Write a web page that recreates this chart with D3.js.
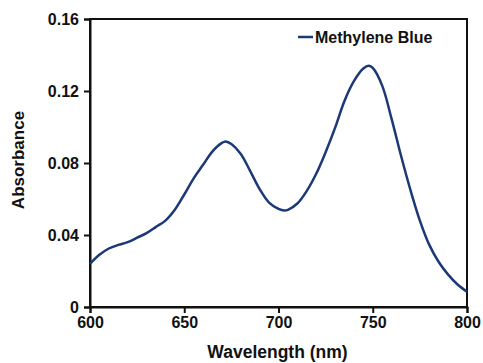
<!DOCTYPE html>
<html>
<head>
<meta charset="utf-8">
<script src="https://cdn.jsdelivr.net/npm/d3@7"></script>
<style>
	body { margin: 0; background: #fff; }
	text { font-family: "Liberation Sans", Arial, sans-serif; font-weight: bold; fill: #111; }
</style>
</head>
<body>
<svg id="chart" width="483" height="363"></svg>
<script>
// spectrum
const wavelengths = [600, 605, 610, 615, 620, 625, 630, 635, 640, 645, 650, 655, 660, 665, 670, 672, 675, 680, 685, 690, 695, 700, 703, 705, 710, 715, 720, 725, 730, 735, 740, 745, 748, 750, 755, 760, 765, 770, 775, 780, 785, 790, 795, 800]
const absorbance = [0.024, 0.029, 0.0325, 0.0345, 0.036, 0.0385, 0.041, 0.0445, 0.048, 0.054, 0.0625, 0.0715, 0.079, 0.0865, 0.0912, 0.092, 0.0905, 0.085, 0.0755, 0.0655, 0.058, 0.0545, 0.0536, 0.054, 0.0575, 0.0645, 0.074, 0.086, 0.0995, 0.1145, 0.1255, 0.1325, 0.134, 0.1328, 0.123, 0.1045, 0.084, 0.065, 0.048, 0.0345, 0.025, 0.018, 0.0125, 0.0085]
const xTicks = [600, 650, 700, 750, 800]
const yTicks = [0, 0.04, 0.08, 0.12, 0.16]
const seriesName = "Methylene Blue"

const colours = { line: "#1c3877", axis: "#111" }

const margin = { top: 19, right: 16, bottom: 56, left: 90 }
const width = 483 - margin.left - margin.right
const height = 363 - margin.top - margin.bottom

const svg = d3.select("#chart")
const g = svg.append("g").attr("transform", `translate(${margin.left},${margin.top})`)

const x = d3.scaleLinear().domain([600, 800]).range([0, width])
const y = d3.scaleLinear().domain([0, 0.16]).range([height, 0])

const points = wavelengths.map((w, i) => ({ w, a: absorbance[i] }))

// frame
g.append("rect")
	.attr("width", width)
	.attr("height", height)
	.attr("fill", "none")
	.attr("stroke", colours.axis)
	.attr("stroke-width", 2)

const xAxis = g.append("g")
	.attr("transform", `translate(0,${height})`)
	.call(d3.axisBottom(x).tickValues(xTicks).tickFormat(d3.format("d")).tickSize(6).tickPadding(4))
const yAxis = g.append("g")
	.call(d3.axisLeft(y).tickValues(yTicks).tickFormat(d => d === 0 ? "0" : d3.format(".2f")(d)).tickSize(6).tickPadding(5))

for (const ax of [xAxis, yAxis]) {
	ax.select(".domain").attr("stroke", colours.axis).attr("stroke-width", 2)
	ax.selectAll(".tick line").attr("stroke", colours.axis).attr("stroke-width", 2)
	ax.selectAll(".tick text").style("font-size", "16px").attr("fill", "#111")
}

const line = d3.line()
	.x(d => x(d.w))
	.y(d => y(d.a))
	.curve(d3.curveCatmullRom.alpha(0.5))

g.append("path")
	.datum(points)
	.attr("fill", "none")
	.attr("stroke", colours.line)
	.attr("stroke-width", 2.5)
	.attr("stroke-linejoin", "round")
	.attr("d", line)

// axis titles
svg.append("text")
	.attr("x", margin.left + x(700) - 1)
	.attr("y", 358)
	.attr("text-anchor", "middle")
	.style("font-size", "17.5px")
	.text("Wavelength (nm)")

svg.append("text")
	.attr("transform", `translate(24,${margin.top + height / 2 - 3}) rotate(-90)`)
	.attr("text-anchor", "middle")
	.style("font-size", "17px")
	.text("Absorbance")

// legend
const legend = svg.append("g").attr("transform", "translate(298,37)")
legend.append("line")
	.attr("x1", 0).attr("x2", 15)
	.attr("stroke", colours.line)
	.attr("stroke-width", 2.5)
legend.append("text")
	.attr("x", 17)
	.attr("dy", "0.35em")
	.style("font-size", "16px")
	.text(seriesName)
</script>
</body>
</html>
